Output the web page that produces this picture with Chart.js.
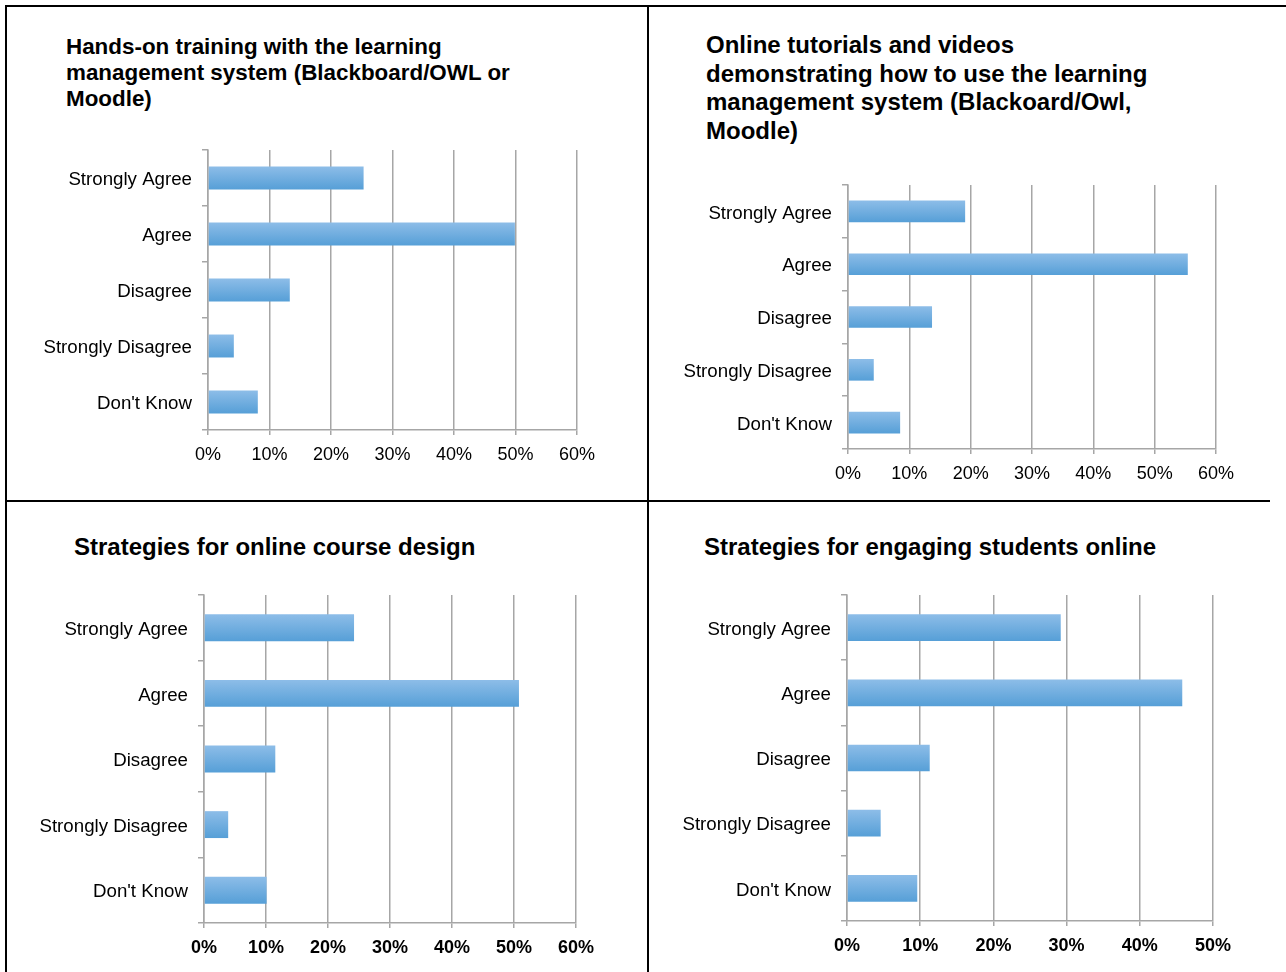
<!DOCTYPE html>
<html>
<head>
<meta charset="utf-8">
<script src="https://cdn.jsdelivr.net/npm/chart.js@4.4.1/dist/chart.umd.min.js"></script>
<style>
  body { margin: 0; background: #fff; }
  #page { position: relative; width: 1286px; height: 972px; overflow: hidden; font-family: 'Liberation Sans', Arial, sans-serif; }
  .line { position: absolute; background: #000; }
  .title { position: absolute; font-weight: bold; color: #000; white-space: nowrap; }
  canvas { position: absolute; }
</style>
</head>
<body>
<div id="page">
  <div class="line" style="left:5px;top:5px;width:1281px;height:2px"></div>
  <div class="line" style="left:5px;top:5px;width:2px;height:967px"></div>
  <div class="line" style="left:647px;top:5px;width:2px;height:967px"></div>
  <div class="line" style="left:5px;top:500px;width:1265px;height:2px"></div>

  <div class="title" style="left:66px;top:34px;font-size:22.4px;line-height:26px">Hands-on training with the learning<br>management system (Blackboard/OWL or<br>Moodle)</div>
  <div class="title" style="left:706px;top:31px;font-size:24px;line-height:28.5px">Online tutorials and videos<br>demonstrating how to use the learning<br>management system (Blackoard/Owl,<br>Moodle)</div>
  <div class="title" style="left:74px;top:533px;font-size:24px;line-height:28px">Strategies for online course design</div>
  <div class="title" style="left:704px;top:533px;font-size:24px;line-height:28px">Strategies for engaging students online</div>

  <canvas id="c1"></canvas>
  <canvas id="c2"></canvas>
  <canvas id="c3"></canvas>
  <canvas id="c4"></canvas>
</div>
<script>
// survey answers, percent of respondents
const categories = ['Strongly Agree', 'Agree', 'Disagree', 'Strongly Disagree', "Don't Know"];
const handsOnValues = [25.3, 49.9, 13.3, 4.2, 8.1];
const tutorialValues = [19.1, 55.4, 13.7, 4.2, 8.5];
const courseDesignValues = [24.2, 50.8, 11.5, 3.9, 10.1];
const engagingValues = [29.2, 45.8, 11.3, 4.6, 9.6];
const tickStep = 10;

const BAR_PCT = 0.41;
const GRID = '#a6a6a6';
const FONT = "'Liberation Sans', Arial, sans-serif";

function barGradient(ctx) {
  const chart = ctx.chart;
  const y = chart.scales && chart.scales.y;
  if (ctx.type !== 'data' || !y || !chart.chartArea) return '#6aaae0';
  const c = y.getPixelForValue(ctx.dataIndex);
  const h = (y.height / categories.length) * BAR_PCT;
  const g = chart.ctx.createLinearGradient(0, c - h / 2, 0, c + h / 2);
  g.addColorStop(0, '#8dbde8');
  g.addColorStop(1, '#569fd7');
  return g;
}

function noPad(s) {
  s.paddingTop = 0;
  s.paddingBottom = 0;
  s.paddingLeft = 0;
  s.paddingRight = 0;
}

function drawChart(id, box, plot, values, max, tickBold) {
  const cv = document.getElementById(id);
  cv.width = box.w;
  cv.height = box.h;
  cv.style.left = box.x + 'px';
  cv.style.top = box.y + 'px';

  new Chart(cv, {
    type: 'bar',
    data: {
      labels: categories,
      datasets: [{
        data: values,
        backgroundColor: barGradient,
        borderWidth: 0,
        barPercentage: BAR_PCT,
        categoryPercentage: 1
      }]
    },
    options: {
      indexAxis: 'y',
      responsive: false,
      animation: false,
      layout: { padding: { left: 0, top: plot.t - box.y, right: box.x + box.w - plot.r, bottom: 0 } },
      plugins: { legend: { display: false }, tooltip: { enabled: false } },
      scales: {
        x: {
          type: 'linear',
          min: 0,
          max: max,
          ticks: {
            stepSize: tickStep,
            callback: v => v + '%',
            padding: 9,
            maxRotation: 0,
            color: '#000',
            font: { family: FONT, size: 18, weight: tickBold ? 'bold' : 'normal' }
          },
          grid: { color: GRID, lineWidth: 1.5, tickLength: 5 },
          border: { color: GRID, width: 1.5 },
          afterFit: s => { s.height = box.y + box.h - plot.b; noPad(s); }
        },
        y: {
          ticks: { padding: 10, labelOffset: 2, color: '#000', font: { family: FONT, size: 18.7 } },
          grid: { drawOnChartArea: false, offset: true, color: GRID, lineWidth: 1.5, tickLength: 6 },
          border: { color: GRID, width: 1.5 },
          afterFit: s => { s.width = plot.l - box.x; noPad(s); }
        }
      }
    }
  });
}

drawChart('c1', { x: 10, y: 140, w: 630, h: 340 }, { l: 208, r: 577, t: 150, b: 430 }, handsOnValues, 60, false);
drawChart('c2', { x: 655, y: 175, w: 625, h: 320 }, { l: 848, r: 1216, t: 185, b: 449 }, tutorialValues, 60, false);
drawChart('c3', { x: 10, y: 585, w: 630, h: 385 }, { l: 204, r: 576, t: 595, b: 923 }, courseDesignValues, 60, true);
drawChart('c4', { x: 655, y: 585, w: 625, h: 385 }, { l: 847, r: 1213, t: 595, b: 921 }, engagingValues, 50, true);
</script>
</body>
</html>
